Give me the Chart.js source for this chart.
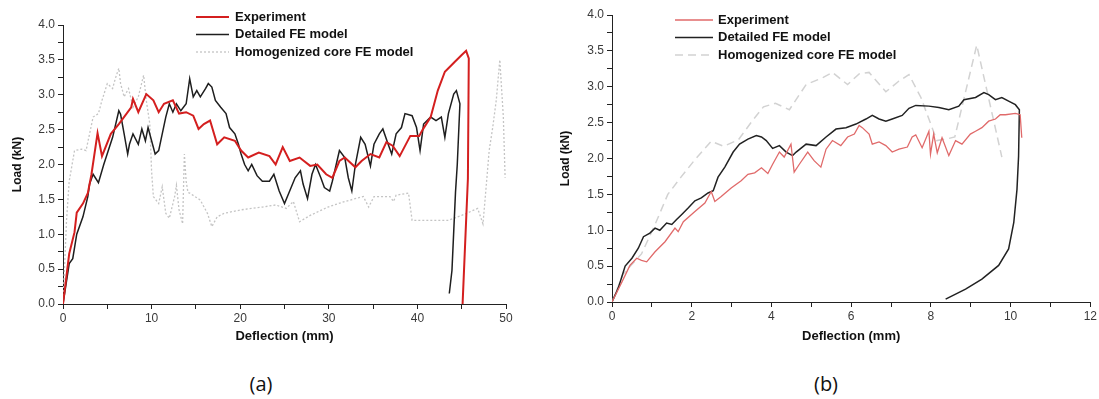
<!DOCTYPE html>
<html>
<head>
<meta charset="utf-8">
<script src="https://cdn.jsdelivr.net/npm/chart.js@4.4.1/dist/chart.umd.min.js"></script>
<style>
  html, body { margin: 0; padding: 0; background: #fff; }
  body { width: 1099px; height: 399px; position: relative; overflow: hidden; font-family: "Liberation Sans", Arial, sans-serif; }
  .wrap { position: absolute; top: 0; }
  .cap { position: absolute; top: 370px; font-family: "Open Sans", "Liberation Sans", sans-serif; font-size: 20px; color: #111; transform: translateX(-50%); }
</style>
</head>
<body>
<div class="wrap" style="left:0px;width:540px;height:360px;"><canvas id="ca" width="540" height="360"></canvas></div>
<div class="wrap" style="left:550px;width:549px;height:360px;"><canvas id="cb" width="549" height="360"></canvas></div>
<div class="cap" style="left:261px;">(a)</div>
<div class="cap" style="left:826px;">(b)</div>
<script>
// ---------------- Panel (a) data ----------------
const seriesLabels = ["Experiment", "Detailed FE model", "Homogenized core FE model"];

const aExpX = [0,0.7,1.3,1.55,2.25,2.8,3.2,3.9,4.4,5.4,6.3,7.7,7.9,8.5,9.4,10.2,10.8,11.4,12.4,13.1,13.9,14.7,15.3,15.9,16.6,17.4,18.2,19.4,20.1,20.9,22.1,23.3,24.0,24.8,25.6,26.7,27.9,28.7,29.7,30.4,31.2,31.8,33.0,33.7,34.7,35.7,36.5,37.2,38.0,39.2,40.2,40.6,41.5,42.3,43.1,44.2,45.0,45.5,45.8,45.7,45.1];
const aExpY = [0,0.72,1.03,1.31,1.44,1.59,1.85,2.45,2.12,2.44,2.58,2.82,2.94,2.75,3.01,2.92,2.75,2.87,2.92,2.73,2.75,2.70,2.51,2.58,2.63,2.29,2.39,2.34,2.2,2.1,2.17,2.12,2.0,2.25,2.05,2.1,1.98,2.0,1.86,1.81,2.05,2.1,1.96,2.05,2.15,2.1,2.32,2.27,2.12,2.41,2.41,2.5,2.68,3.06,3.33,3.47,3.57,3.63,3.52,1.8,0];

const aDetX = [0,0.7,1.1,1.55,2.25,2.8,3.0,3.4,4.0,4.6,5.6,6.3,6.5,6.9,7.3,7.5,7.9,8.5,8.9,9.3,9.6,10.4,10.8,11.6,12.0,12.4,12.8,13.3,13.9,14.3,14.7,15.1,15.5,16.1,16.4,16.8,17.2,17.8,18.4,18.8,19.4,19.8,20.1,20.5,20.9,21.3,21.9,22.5,23.3,23.8,24.4,25.0,26.2,26.8,27.1,27.6,28.1,28.5,29.1,29.5,30.1,30.4,31.2,31.8,32.2,32.6,33.0,33.6,34.1,34.7,35.1,35.7,36.1,36.7,37.1,37.6,38.2,38.6,39.4,39.9,40.3,40.7,41.5,42.1,42.7,43.1,43.5,44.1,44.4,44.8,44.5,44.3,43.9,43.6];
const aDetY = [0,0.58,0.65,1.0,1.25,1.54,1.72,1.86,1.74,2.0,2.39,2.77,2.72,2.44,2.15,2.29,2.44,2.29,2.51,2.34,2.53,2.15,2.2,2.68,2.87,2.75,2.87,2.77,2.87,3.23,2.97,3.06,2.97,3.09,3.16,3.11,2.92,2.82,2.73,2.53,2.44,2.29,2.15,2.0,1.91,2.0,1.84,1.76,1.76,1.86,1.62,1.44,1.81,1.91,1.72,1.51,1.86,2.0,1.81,1.67,1.62,1.76,2.2,2.1,1.81,1.62,2.0,2.39,2.29,1.98,2.29,2.44,2.51,2.29,2.15,2.44,2.53,2.73,2.7,2.53,2.2,2.58,2.68,2.63,2.68,2.39,2.73,3.01,3.06,2.87,2.0,1.6,0.48,0.15];

const aHomX = [0,0.4,0.7,1.3,2.1,2.6,3.4,4.0,4.4,5.0,5.6,5.9,6.3,6.5,6.9,7.4,7.9,8.5,9.1,9.4,9.8,10.0,10.2,10.8,11.2,11.6,12.0,12.6,12.8,13.1,13.5,13.7,13.9,14.1,14.3,15.5,16.3,16.8,17.4,18.2,20.1,22.5,24.0,25.2,26.0,26.7,27.9,29.9,31.8,33.9,34.5,35.1,36.9,37.3,37.6,39.0,39.4,41.5,43.5,45.0,46.8,47.4,47.7,48.1,48.5,48.9,49.3,49.7,49.9];
const aHomY = [0,1.2,1.76,2.2,2.22,2.2,2.68,2.73,2.92,3.16,3.09,3.23,3.38,3.16,2.97,3.09,2.82,2.97,3.28,2.92,2.58,1.9,1.54,1.44,1.68,1.3,1.23,1.54,1.7,1.35,1.15,2.15,1.76,1.6,1.59,1.49,1.3,1.11,1.25,1.3,1.35,1.39,1.42,1.37,1.47,1.18,1.27,1.39,1.47,1.54,1.39,1.54,1.54,1.47,1.56,1.59,1.2,1.2,1.2,1.27,1.37,1.15,1.59,2.2,2.53,2.92,3.5,2.68,1.81];

const aXTicks = [0, 10, 20, 30, 40, 50];
const aYTicks = [0.0, 0.5, 1.0, 1.5, 2.0, 2.5, 3.0, 3.5, 4.0];

// ---------------- Panel (b) data ----------------
const bExpX = [0,0.25,0.45,0.62,0.74,0.87,1.08,1.33,1.58,1.66,1.79,2.08,2.33,2.49,2.58,2.74,2.99,3.24,3.41,3.58,3.75,3.91,4.03,4.2,4.32,4.49,4.57,4.7,4.91,5.07,5.24,5.37,5.53,5.74,5.91,6.08,6.2,6.28,6.45,6.53,6.7,6.87,7.03,7.2,7.41,7.53,7.62,7.78,7.95,7.99,8.07,8.16,8.28,8.45,8.62,8.78,8.99,9.12,9.28,9.45,9.62,9.74,9.87,10.12,10.24,10.28];
const bExpY = [0,0.28,0.51,0.61,0.58,0.56,0.7,0.84,1.03,0.98,1.12,1.26,1.38,1.54,1.4,1.47,1.59,1.69,1.78,1.8,1.87,1.79,1.92,2.09,2.02,2.2,1.81,1.92,2.09,1.97,1.88,2.13,2.25,2.18,2.3,2.34,2.46,2.43,2.34,2.2,2.23,2.18,2.09,2.13,2.16,2.3,2.33,2.15,2.38,2.06,2.34,2.08,2.29,2.04,2.25,2.2,2.34,2.38,2.43,2.52,2.55,2.61,2.61,2.63,2.61,2.29];

const bDetX = [0,0.16,0.33,0.5,0.66,0.79,0.95,1.08,1.2,1.37,1.5,1.62,1.75,1.91,2.08,2.24,2.41,2.54,2.66,2.83,3.04,3.2,3.41,3.62,3.75,3.87,4.03,4.2,4.37,4.53,4.62,4.87,5.12,5.37,5.62,5.87,6.12,6.37,6.53,6.7,6.87,7.03,7.28,7.45,7.62,7.95,8.2,8.45,8.7,8.83,9.12,9.33,9.45,9.62,9.78,9.95,10.12,10.22,10.2,10.16,10.08,9.95,9.7,9.28,8.87,8.37];
const bDetY = [0,0.2,0.5,0.61,0.75,0.91,0.96,1.03,1.0,1.1,1.08,1.15,1.22,1.31,1.41,1.45,1.52,1.55,1.74,1.88,2.09,2.2,2.27,2.32,2.3,2.25,2.14,2.18,2.09,2.04,2.09,2.2,2.18,2.3,2.41,2.43,2.48,2.55,2.6,2.55,2.52,2.55,2.6,2.7,2.74,2.73,2.71,2.68,2.73,2.82,2.85,2.92,2.89,2.82,2.85,2.8,2.75,2.68,2.03,1.57,1.11,0.74,0.51,0.32,0.18,0.04];

const bHomX = [0,0.28,0.74,1.08,1.4,1.73,2.06,2.49,2.8,3.17,3.5,3.8,4.1,4.45,4.87,5.3,5.53,5.91,6.2,6.45,6.87,7.2,7.45,7.75,8.15,8.45,8.6,9.15,9.78];
const bHomY = [0,0.39,0.67,1.08,1.5,1.74,1.97,2.24,2.17,2.26,2.51,2.72,2.77,2.68,3.03,3.13,3.2,3.03,3.18,3.2,2.93,3.08,3.17,2.85,2.25,2.28,2.3,3.58,2.02];

const bXTicks = [0, 2, 4, 6, 8, 10, 12];
const bYTicks = [0.0, 0.5, 1.0, 1.5, 2.0, 2.5, 3.0, 3.5, 4.0];

const xTitle = "Deflection (mm)";
const yTitle = "Load (kN)";

// ---------------- helpers ----------------
function pts(xs, ys) { return xs.map((x, i) => ({ x: x, y: ys[i] })); }
function near(v, arr) { return arr.some(t => Math.abs(t - v) < 1e-6); }

const legendPlugin = {
  id: 'insideLegend',
  afterDraw(chart, args, opts) {
    const ctx = chart.ctx;
    ctx.save();
    ctx.font = opts.font;
    ctx.textBaseline = 'middle';
    ctx.fillStyle = '#111';
    chart.data.datasets.forEach((ds, i) => {
      const y = opts.y + i * opts.row;
      ctx.beginPath();
      ctx.strokeStyle = ds.borderColor;
      ctx.lineWidth = ds.borderWidth;
      ctx.setLineDash(ds.borderDash || []);
      ctx.moveTo(opts.x0, y);
      ctx.lineTo(opts.x1, y);
      ctx.stroke();
      ctx.setLineDash([]);
      ctx.fillText(ds.label, opts.tx, y);
    });
    ctx.restore();
  }
};

function makeChart(id, cfg) {
  const tickFont = { family: "'Liberation Sans', Arial, sans-serif", size: 12 };
  const titleFont = { family: "'Liberation Sans', Arial, sans-serif", size: 12, weight: 'bold' };
  return new Chart(document.getElementById(id), {
    type: 'scatter',
    data: {
      datasets: cfg.series.map(s => ({
        label: s.label,
        data: s.data,
        showLine: true,
        borderColor: s.color,
        borderWidth: s.width,
        borderDash: s.dash,
        pointRadius: 0,
        pointHoverRadius: 0,
        tension: 0,
        fill: false
      }))
    },
    options: {
      responsive: false,
      animation: false,
      events: [],
      layout: { padding: cfg.padding },
      plugins: {
        legend: { display: false },
        tooltip: { enabled: false },
        insideLegend: cfg.legend
      },
      scales: {
        x: {
          type: 'linear',
          min: cfg.xMin, max: cfg.xMax,
          border: { display: true, color: '#222', width: 1 },
          grid: { display: true, drawOnChartArea: false, drawTicks: true, tickLength: 5, color: '#222' },
          ticks: {
            stepSize: cfg.xMinor, autoSkip: false, maxRotation: 0, padding: 2,
            color: '#3a3a3a', font: tickFont,
            callback: v => near(v, cfg.xTicks) ? String(v) : ''
          },
          title: { display: true, text: xTitle, color: '#111', font: { ...titleFont, size: 13 }, padding: { top: 4, bottom: 4 } },
          afterFit: s => { s.height = cfg.xH; }
        },
        y: {
          type: 'linear',
          min: 0, max: 4,
          border: { display: true, color: '#222', width: 1 },
          grid: { display: true, drawOnChartArea: false, drawTicks: true, tickLength: 5, color: '#222' },
          ticks: {
            stepSize: 0.25, autoSkip: false, padding: 3,
            color: '#3a3a3a', font: tickFont,
            callback: v => near(v, cfg.yTicks) ? v.toFixed(1) : ''
          },
          title: { display: true, text: yTitle, color: '#111', font: titleFont, padding: { top: cfg.yTitlePad, bottom: 0 } },
          afterFit: s => { s.width = cfg.yW; }
        }
      }
    },
    plugins: [legendPlugin]
  });
}

makeChart('ca', {
  series: [
    { label: seriesLabels[0], data: pts(aExpX, aExpY), color: '#d41f1f', width: 2, dash: [] },
    { label: seriesLabels[1], data: pts(aDetX, aDetY), color: '#1e1e1e', width: 1.5, dash: [] },
    { label: seriesLabels[2], data: pts(aHomX, aHomY), color: '#c4c4c4', width: 1.3, dash: [2, 2] }
  ],
  xMin: 0, xMax: 50, xMinor: 5, xTicks: aXTicks, yTicks: aYTicks,
  padding: { left: 0, top: 25, right: 34, bottom: 12 },
  xH: 44, yW: 63, yTitlePad: 10,
  legend: { x0: 196, x1: 229, tx: 235, y: 17, row: 17.5, font: "bold 13px 'Liberation Sans', Arial, sans-serif" }
});

makeChart('cb', {
  series: [
    { label: seriesLabels[0], data: pts(bExpX, bExpY), color: '#e06a6a', width: 1.3, dash: [] },
    { label: seriesLabels[1], data: pts(bDetX, bDetY), color: '#222222', width: 1.5, dash: [] },
    { label: seriesLabels[2], data: pts(bHomX, bHomY), color: '#d2d2d2', width: 1.5, dash: [8, 5] }
  ],
  xMin: 0, xMax: 12, xMinor: 1, xTicks: bXTicks, yTicks: bYTicks,
  padding: { left: 0, top: 15, right: 6, bottom: 12 },
  xH: 46, yW: 62, yTitlePad: 8,
  legend: { x0: 125, x1: 163, tx: 168, y: 20, row: 17.5, font: "bold 13px 'Liberation Sans', Arial, sans-serif" }
});
</script>
</body>
</html>
